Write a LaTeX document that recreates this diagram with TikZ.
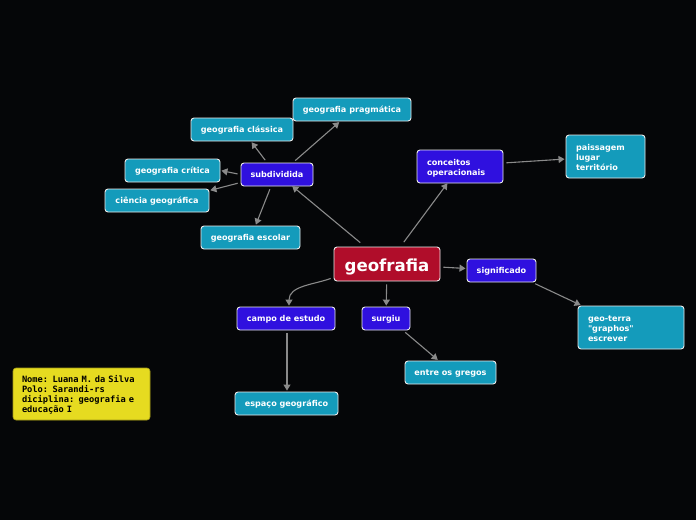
\documentclass[tikz,border=0pt]{standalone}
\usepackage{fontspec}
\setmainfont{DejaVu Sans}
\newfontfamily\rawfont[Ligatures=TeXOff]{DejaVu Sans}
\newfontfamily\notefont[WordSpace={1,0,0}]{DejaVu Sans Mono Bold}
\usetikzlibrary{arrows.meta}
\definecolor{bg}{HTML}{050608}
\definecolor{teal}{HTML}{149BBB}
\definecolor{violet}{HTML}{2F10DF}
\definecolor{crimson}{HTML}{B00D2A}
\definecolor{note}{HTML}{E6DB20}
\definecolor{edge}{HTML}{8A8A8A}
\newcommand{\topstrut}{\rule{0pt}{9pt}}
\tikzset{
  base/.style={draw=white!85!gray, line width=0.9pt, rounded corners=3pt, text=white,
    font=\fontsize{8.1}{10}\selectfont\bfseries, inner sep=0pt, align=left, anchor=center},
  single/.style={text height=7.5pt, text depth=1.5pt},
  tbox/.style={base, fill=teal},
  vbox/.style={base, fill=violet},
  conn/.style={draw=edge, line width=1.1pt, -{Triangle[length=6pt,width=7pt]}, shorten >=1pt, shorten <=3pt},
}
\begin{document}
\begin{tikzpicture}[x=1pt,y=-1pt]
\fill[bg] (0,0) rectangle (696,520);
\useasboundingbox (0,0) rectangle (696,520);

\node[base, fill=crimson, minimum width=106pt, minimum height=34pt, text height=17pt, text depth=3pt, font=\fontsize{16.6}{18}\selectfont\bfseries] (geo) at (387,264) {geofrafia};

\node[vbox, single, minimum width=72pt, minimum height=23pt] (sub) at (277,174.5) {subdividida};
\node[tbox, single, minimum width=118pt, minimum height=23pt] (prag) at (352,109.5) {geografia pragmática};
\node[tbox, single, minimum width=102pt, minimum height=23pt] (clas) at (242,129.5) {geografia clássica};
\node[tbox, single, minimum width=95pt, minimum height=23pt] (crit) at (172.5,170.5) {geografia crítica};
\node[tbox, single, minimum width=104pt, minimum height=23pt] (cien) at (157,200.5) {ciência geográfica};
\node[tbox, single, minimum width=99pt, minimum height=23pt] (esc) at (250.5,237.5) {geografia escolar};

\node[vbox, minimum width=86pt, minimum height=33pt, text width=66pt] (conc) at (460,166.5) {\topstrut conceitos\\operacionais};
\node[tbox, minimum width=79pt, minimum height=43pt, text width=59pt] (pais) at (605.5,156.5) {\topstrut paissagem\\lugar\\território};

\node[vbox, single, minimum width=69pt, minimum height=23pt] (sig) at (501.5,270.5) {significado};
\node[tbox, minimum width=106pt, minimum height=43pt, text width=86pt] (gt) at (631,327.5) {\topstrut geo-terra\\{\rawfont\bfseries "graphos"}\\escrever};

\node[vbox, single, minimum width=48pt, minimum height=23pt] (surg) at (386,318.5) {surgiu};
\node[tbox, single, minimum width=91pt, minimum height=23pt] (greg) at (450.5,372.5) {entre os gregos};

\node[vbox, single, minimum width=98pt, minimum height=23pt] (campo) at (286,318.5) {campo de estudo};
\node[tbox, single, minimum width=103pt, minimum height=23pt] (esp) at (286.5,403.5) {espaço geográfico};

\node[draw=note!70!black, line width=0.6pt, fill=note, rounded corners=3pt, minimum width=137pt, minimum height=52pt,
  inner sep=0pt] (nota) at (81.5,394) {};
\node[text width=123pt, align=left, inner sep=0pt, text=black, font=\notefont\fontsize{8.7}{10}\selectfont] (notatext) at (83.5,394)
  {\topstrut Nome: Luana M. da Silva\\Polo: Sarandi-rs\\diciplina: geografia e\\educação I};

\coordinate (g1) at ([xshift=29pt,yshift=2pt]geo.north west);
\draw[conn] (g1) -- ([xshift=-22pt,yshift=1pt]sub.south east);
\draw[conn] ([xshift=15pt,yshift=2pt]geo.north) -- ([xshift=-12pt,yshift=1pt]conc.south);
\draw[conn] (geo) -- (sig);
\draw[conn] (geo) -- (surg);
\draw[conn] ([yshift=4pt]geo.south west) to[out=200,in=90] ([xshift=3pt]campo.north);

\draw[conn] ([xshift=16pt]sub.north) -- ([xshift=-12pt]prag.south);
\draw[conn] ([xshift=-10pt]sub.north) -- ([xshift=9pt]clas.south);
\draw[conn] (sub.west) -- (crit.east);
\draw[conn] ([yshift=-8pt]sub.west) -- ([yshift=-2pt]cien.north east);
\draw[conn] ([xshift=-6pt]sub.south) -- ([xshift=5pt]esc.north);

\draw[conn] ([yshift=3.5pt]conc.east) -- ([yshift=-2.5pt]pais.west);
\draw[conn] ([xshift=-4pt]sig.south east) -- ([xshift=4pt]gt.north west);
\draw[conn] ([xshift=17pt]surg.south) -- ([xshift=-12pt]greg.north);
\draw[conn] ([xshift=1pt]campo.south) -- ([xshift=0.5pt]esp.north);
\end{tikzpicture}
\end{document}
